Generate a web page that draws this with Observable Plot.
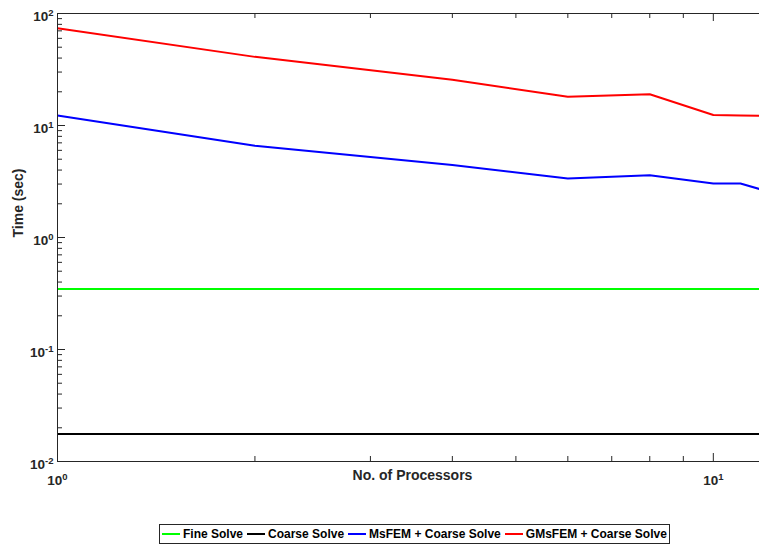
<!DOCTYPE html>
<html><head><meta charset="utf-8">
<script src="https://cdn.jsdelivr.net/npm/d3@7"></script>
<script src="https://cdn.jsdelivr.net/npm/@observablehq/plot@0.6"></script>
<style>
body{margin:0;background:#fff;font-family:"Liberation Sans",Arial,sans-serif;}
#chart{width:759px;height:515px;}
#legend{position:absolute;left:159px;top:524px;height:18px;border:1px solid #262626;display:flex;align-items:center;padding:0 2px 0 2px;font-weight:bold;font-size:12px;color:#000;white-space:nowrap;background:#fff;}
#legend .item{display:flex;align-items:center;margin-right:4px;}
#legend .item:last-child{margin-right:0;}
#legend .sw{width:18px;height:2px;margin-right:3px;}
</style></head><body>
<div id="chart"></div>
<div id="legend"></div>
<script>
// ---- data ----
const processors = [1, 2, 4, 6, 8, 10, 11, 12];
const fineSolve   = [0.346, 0.346, 0.346, 0.346, 0.346, 0.346, 0.346, 0.346];
const coarseSolve = [0.0176, 0.0176, 0.0176, 0.0176, 0.0176, 0.0176, 0.0176, 0.0176];
const msfemCoarse = [12.3, 6.6, 4.45, 3.37, 3.6, 3.03, 3.03, 2.62];
const gmsfemCoarse = [74, 41, 25.6, 18.1, 19.0, 12.4, 12.3, 12.2];
const seriesNames = ["Fine Solve", "Coarse Solve", "MsFEM + Coarse Solve", "GMsFEM + Coarse Solve"];
const seriesColors = ["#00ff00", "#000000", "#0000ff", "#ff0000"];
const xMajorTicks = [1, 10];
const xMinorTicks = [2, 3, 4, 5, 6, 7, 8, 9];
const yMajorTicks = [0.01, 0.1, 1, 10, 100];
const yMinorTicks = [0.02,0.03,0.04,0.05,0.06,0.07,0.08,0.09,0.2,0.3,0.4,0.5,0.6,0.7,0.8,0.9,2,3,4,5,6,7,8,9,20,30,40,50,60,70,80,90];
const xLabel = "No. of Processors";
const yLabel = "Time (sec)";

const allSeries = [fineSolve, coarseSolve, msfemCoarse, gmsfemCoarse];
const rows = [];
allSeries.forEach((vals, i) => vals.forEach((v, j) => rows.push({x: processors[j], y: v, series: seriesNames[i]})));

const W = 759, H = 515, mT = 13, mB = 54, mL = 57, mR = 0;
const fh = H - mT - mB, fw = W - mL - mR;
const axisColor = "#262626";
const fmt = d => "10|" + Math.round(Math.log10(d));

const plot = Plot.plot({
  width: W, height: H, marginTop: mT, marginBottom: mB, marginLeft: mL, marginRight: mR,
  style: {fontFamily: "'Liberation Sans', Arial, sans-serif", background: "transparent", overflow: "visible"},
  x: {type: "log", domain: [1, 11.76]},
  y: {type: "log", domain: [0.01, 100]},
  color: {domain: seriesNames, range: seriesColors},
  marks: [
    Plot.lineY(rows, {x: "x", y: "y", stroke: "series", z: "series", strokeWidth: 2, clip: true}),
    Plot.ruleX([1], {stroke: axisColor, strokeWidth: 1}),
    Plot.ruleY([0.01], {stroke: axisColor, strokeWidth: 1}),
    Plot.ruleY([100], {stroke: axisColor, strokeWidth: 1}),
    // inward ticks bottom
    Plot.tickX(xMinorTicks, {x: d => d, insetTop: fh - 5, stroke: axisColor}),
    Plot.tickX(xMajorTicks, {x: d => d, insetTop: fh - 8, stroke: axisColor}),
    // inward ticks top
    Plot.tickX(xMinorTicks, {x: d => d, insetBottom: fh - 5, stroke: axisColor}),
    Plot.tickX(xMajorTicks, {x: d => d, insetBottom: fh - 8, stroke: axisColor}),
    // inward ticks left
    Plot.tickY(yMinorTicks, {y: d => d, insetRight: fw - 5, stroke: axisColor}),
    Plot.tickY(yMajorTicks, {y: d => d, insetRight: fw - 8, stroke: axisColor}),
    Plot.axisX(xMajorTicks, {tickSize: 0, tickPadding: 14, tickFormat: fmt, fontSize: 13.5, fontWeight: "bold", fill: axisColor, label: null}),
    Plot.axisY(yMajorTicks, {tickSize: 0, tickPadding: 4, tickFormat: fmt, fontSize: 13.5, fontWeight: "bold", fill: axisColor, dy: 3, label: null}),
    Plot.text([xLabel], {text: d => d, frameAnchor: "bottom", dy: 18, dx: 4, fontSize: 14, fontWeight: "bold", fill: axisColor}),
    Plot.text([yLabel], {text: d => d, frameAnchor: "left", rotate: -90, dx: -39, fontSize: 14, fontWeight: "bold", fill: axisColor})
  ]
});

// superscript exponents on tick labels
const ns = "http://www.w3.org/2000/svg";
plot.querySelectorAll('[aria-label="x-axis tick label"] text, [aria-label="y-axis tick label"] text').forEach(t => {
  const parts = t.textContent.split("|");
  if (parts.length !== 2) return;
  t.textContent = parts[0];
  const ts = document.createElementNS(ns, "tspan");
  ts.setAttribute("dy", "-5");
  ts.setAttribute("font-size", "9.5");
  ts.textContent = parts[1];
  t.appendChild(ts);
});
document.getElementById("chart").appendChild(plot);

// legend
const lg = document.getElementById("legend");
seriesNames.forEach((name, i) => {
  const it = document.createElement("div"); it.className = "item";
  const sw = document.createElement("div"); sw.className = "sw"; sw.style.background = seriesColors[i];
  const tx = document.createElement("span"); tx.textContent = name;
  it.appendChild(sw); it.appendChild(tx); lg.appendChild(it);
});
</script>
</body></html>
